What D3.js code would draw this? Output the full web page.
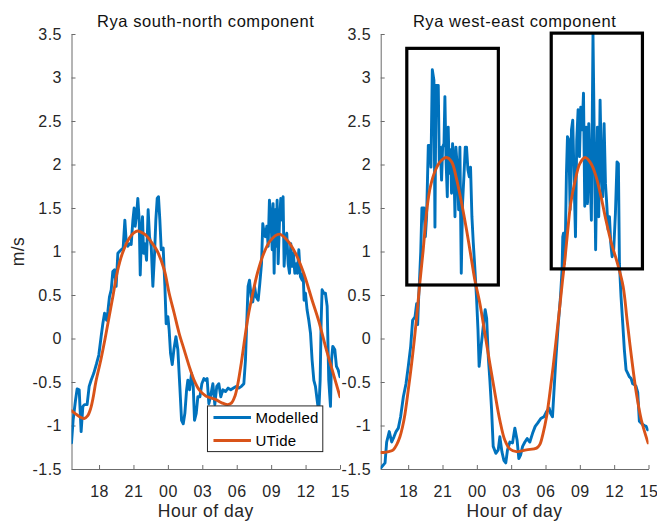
<!DOCTYPE html>
<html>
<head>
<meta charset="utf-8">
<script src="https://cdn.jsdelivr.net/npm/d3@7"></script>
<style>
  html, body { margin: 0; padding: 0; background: #fff; }
  svg { display: block; font-family: "Liberation Sans", Arial, Helvetica, sans-serif; }
</style>
</head>
<body>
<svg id="chart" width="657" height="521"></svg>
<script>
// ---- axes definitions ----
const hourDomain = [15.6, 39];
const hourTicks = [18, 21, 24, 27, 30, 33, 36, 39];
const hourTickLabels = ["18", "21", "00", "03", "06", "09", "12", "15"];
const valueDomain = [-1.5, 3.5];
const valueTicks = [-1.5, -1, -0.5, 0, 0.5, 1, 1.5, 2, 2.5, 3, 3.5];

const panelTitles = ["Rya south-north component", "Rya west-east component"];
const xAxisLabel = "Hour of day";
const yAxisLabel = "m/s";
const seriesNames = ["Modelled", "UTide"];
const seriesColors = ["#0072BD", "#D95319"];

// ---- south-north component: [hour, m/s] ----
const southNorthModelled = [
  [15.6,-1.2],[15.74,-0.94],[15.95,-0.71],[16.09,-0.58],[16.27,-0.59],[16.44,-1.07],[16.59,-0.78],
  [16.73,-0.76],[16.96,-0.76],[17.14,-0.55],[17.31,-0.48],[17.54,-0.40],[17.78,-0.29],[17.98,-0.19],
  [18.18,0.02],[18.33,0.17],[18.48,0.29],[18.65,0.21],[18.77,0.31],[18.91,0.48],[19.06,0.56],
  [19.2,0.77],[19.35,0.79],[19.49,0.6],[19.64,0.98],[19.78,1.0],[19.93,1.02],[20.1,1.04],
  [20.25,1.36],[20.36,1.13],[20.51,1.06],[20.66,1.09],[20.8,1.08],[20.95,1.36],[21.06,1.5],
  [21.15,1.29],[21.27,1.42],[21.38,1.61],[21.5,1.36],[21.59,0.73],[21.7,1.21],[21.79,1.4],
  [21.88,0.98],[21.99,1.09],[22.14,0.9],[22.28,1.48],[22.4,1.17],[22.55,1.06],[22.69,0.6],
  [22.84,0.98],[22.95,1.36],[23.07,1.61],[23.18,1.63],[23.3,1.36],[23.42,1.02],[23.59,1.04],
  [23.74,0.6],[23.85,0.17],[24.0,0.25],[24.11,0.1],[24.23,-0.17],[24.38,-0.3],[24.52,-0.13],
  [24.7,0.02],[24.87,-0.13],[25.04,-0.55],[25.19,-0.94],[25.34,-0.98],[25.48,-0.86],[25.63,-0.59],
  [25.74,-0.48],[25.89,-0.59],[26.06,-0.4],[26.21,-0.55],[26.32,-0.94],[26.47,-0.86],[26.61,-0.67],
  [26.79,-0.67],[26.96,-0.52],[27.14,-0.46],[27.28,-0.48],[27.42,-0.46],[27.57,-0.75],[27.71,-0.67],
  [27.92,-0.52],[28.09,-0.76],[28.26,-0.55],[28.44,-0.52],[28.61,-0.67],[28.79,-0.59],[29.02,-0.61],
  [29.25,-0.57],[29.48,-0.59],[29.72,-0.57],[29.95,-0.55],[30.18,-0.57],[30.41,-0.55],[30.62,-0.52],
  [30.76,-0.25],[30.88,0.21],[30.99,0.6],[31.11,0.67],[31.26,0.48],[31.4,0.42],[31.55,0.6],
  [31.69,0.48],[31.87,0.44],[32.01,0.63],[32.16,0.86],[32.27,1.32],[32.39,1.21],[32.5,1.17],
  [32.62,1.29],[32.74,1.06],[32.85,1.59],[32.97,1.4],[33.09,1.02],[33.17,1.55],[33.26,0.75],
  [33.35,1.48],[33.43,1.06],[33.52,1.59],[33.61,0.86],[33.73,1.36],[33.84,1.61],[33.96,1.36],
  [34.04,1.63],[34.13,0.83],[34.25,1.13],[34.36,1.21],[34.48,0.86],[34.6,0.75],[34.71,1.09],
  [34.83,0.83],[34.94,0.98],[35.06,0.75],[35.18,0.86],[35.29,0.75],[35.41,1.02],[35.55,0.71],
  [35.7,0.67],[35.79,0.75],[35.87,0.44],[35.99,0.52],[36.13,0.33],[36.28,0.21],[36.43,0.06],
  [36.57,-0.25],[36.72,-0.48],[36.86,-0.55],[37.01,-0.71],[37.15,-0.85],[37.27,-0.48],[37.36,0.21],
  [37.44,0.56],[37.59,0.52],[37.73,0.52],[37.88,0.37],[38.02,-0.48],[38.17,-0.78],[38.26,-0.25],
  [38.37,-0.09],[38.55,-0.13],[38.69,-0.32],[38.84,-0.36],[39.0,-0.44]
];
const southNorthUTide = [
  [15.6,-0.83],[15.9,-0.86],[16.3,-0.9],[16.7,-0.92],[17.0,-0.89],[17.28,-0.8],[17.5,-0.67],
  [17.72,-0.5],[18.15,-0.25],[18.53,0.0],[18.88,0.25],[19.23,0.5],[19.6,0.77],[20.04,0.98],
  [20.62,1.15],[21.0,1.21],[21.35,1.235],[21.7,1.22],[22.07,1.19],[22.66,1.09],[23.09,1.0],
  [23.68,0.79],[24.11,0.52],[24.55,0.29],[24.98,0.06],[25.42,-0.13],[25.86,-0.32],[26.29,-0.48],
  [26.73,-0.59],[27.3,-0.66],[28.15,-0.7],[28.7,-0.74],[29.2,-0.76],[29.55,-0.74],[29.85,-0.66],
  [30.1,-0.52],[30.4,-0.28],[30.7,0.0],[31.0,0.26],[31.4,0.52],[31.8,0.75],[32.3,0.96],
  [32.9,1.12],[33.7,1.2],[34.4,1.13],[35.12,0.98],[35.84,0.75],[36.57,0.44],[37.15,0.2],
  [37.73,-0.09],[38.32,-0.36],[39.0,-0.67]
];

// ---- west-east component: [hour, m/s] ----
const westEastModelled = [
  [15.6,-1.49],[15.98,-1.43],[16.12,-1.19],[16.35,-1.07],[16.56,-1.19],[16.76,-1.13],[16.94,-1.07],
  [17.14,-1.03],[17.34,-0.9],[17.58,-0.67],[17.81,-0.52],[18.01,-0.32],[18.22,-0.09],[18.39,0.21],
  [18.6,0.25],[18.74,0.4],[18.83,0.16],[18.91,0.45],[19.0,0.7],[19.1,1.0],[19.2,1.5],[19.38,1.5],
  [19.5,1.17],[19.61,1.4],[19.76,2.22],[19.9,2.22],[19.99,1.97],[20.11,3.09],[20.25,2.97],
  [20.34,1.28],[20.43,2.91],[20.63,2.91],[20.72,2.01],[20.8,2.2],[20.92,1.82],[21.01,2.2],
  [21.13,2.24],[21.21,2.78],[21.3,2.09],[21.42,1.63],[21.5,2.43],[21.59,1.9],[21.71,2.17],
  [21.79,1.67],[21.88,2.24],[22.0,1.94],[22.09,1.4],[22.17,2.2],[22.29,1.97],[22.41,1.48],
  [22.52,2.2],[22.64,0.75],[22.75,1.55],[22.87,1.86],[22.99,2.2],[23.1,2.2],[23.22,1.94],
  [23.34,1.86],[23.45,1.97],[23.57,1.4],[23.69,1.1],[23.83,0.8],[23.98,0.45],[24.1,0.1],
  [24.2,-0.32],[24.4,-0.06],[24.62,0.21],[24.73,0.33],[24.86,0.23],[25.0,-0.21],[25.14,-0.48],
  [25.29,-0.82],[25.43,-1.24],[25.66,-1.32],[25.87,-1.28],[26.01,-1.13],[26.19,-1.3],[26.36,-1.4],
  [26.53,-1.43],[26.68,-1.28],[26.89,-1.19],[27.12,-1.2],[27.32,-1.03],[27.52,-1.17],[27.67,-1.38],
  [27.82,-1.34],[28.0,-1.24],[28.2,-1.19],[28.4,-1.15],[28.63,-1.19],[28.87,-1.09],[29.1,-1.01],
  [29.33,-0.97],[29.59,-0.92],[29.86,-0.9],[30.09,-0.84],[30.32,-0.8],[30.44,-0.86],[30.61,-0.9],
  [30.73,-0.63],[30.9,-0.25],[31.1,0.14],[31.31,0.48],[31.45,0.8],[31.51,1.17],[31.57,1.21],
  [31.66,0.86],[31.75,1.25],[31.83,1.9],[31.92,2.32],[32.04,2.28],[32.15,1.48],[32.27,2.4],
  [32.38,2.51],[32.5,1.82],[32.62,1.17],[32.73,2.28],[32.85,2.63],[32.97,2.09],[33.08,2.66],
  [33.2,2.4],[33.32,2.82],[33.43,1.52],[33.55,2.43],[33.67,1.55],[33.78,2.47],[33.9,1.86],
  [34.01,1.36],[34.15,3.5],[34.27,2.2],[34.38,1.02],[34.54,2.43],[34.65,1.4],[34.77,2.74],
  [34.89,1.94],[35.0,1.63],[35.12,2.47],[35.24,1.78],[35.35,1.55],[35.47,1.25],[35.59,1.4],
  [35.7,1.1],[35.82,0.94],[35.96,1.02],[36.11,1.44],[36.25,2.03],[36.37,2.01],[36.46,0.86],
  [36.6,0.48],[36.75,0.17],[36.89,-0.13],[37.04,-0.36],[37.19,-0.4],[37.33,-0.44],[37.48,-0.46],
  [37.62,-0.52],[37.77,-0.53],[37.91,-0.55],[38.06,-0.62],[38.2,-0.95],[38.35,-0.97],[38.5,-0.99],
  [38.64,-1.0],[38.79,-1.01],[38.93,-1.05]
];
const westEastUTide = [
  [15.6,-1.31],[15.83,-1.31],[16.3,-1.3],[16.7,-1.28],[17.0,-1.22],[17.28,-1.13],[17.5,-1.02],
  [17.72,-0.87],[18.01,-0.59],[18.3,-0.29],[18.55,0.0],[18.83,0.37],[19.0,0.615],[19.3,1.0],
  [19.65,1.5],[19.95,1.75],[20.4,1.94],[20.85,2.04],[21.35,2.08],[21.8,2.03],[22.2,1.85],
  [22.65,1.57],[23.1,1.25],[23.54,0.9],[23.83,0.67],[24.27,0.4],[24.7,0.06],[25.14,-0.29],
  [25.58,-0.63],[26.01,-0.94],[26.45,-1.17],[26.89,-1.27],[27.47,-1.3],[28.34,-1.28],[29.22,-1.26],
  [29.5,-1.22],[29.79,-1.09],[30.09,-0.9],[30.38,-0.63],[30.67,-0.32],[30.96,0.02],[31.25,0.37],
  [31.49,0.67],[31.69,0.9],[31.95,1.25],[32.2,1.55],[32.6,1.82],[33.0,2.01],[33.46,2.08],
  [33.98,2.01],[34.42,1.86],[34.85,1.63],[35.3,1.35],[35.75,1.1],[36.25,0.88],[36.78,0.6],
  [37.13,0.21],[37.51,-0.21],[37.94,-0.63],[38.38,-0.94],[38.96,-1.2]
];

// highlighted windows on the west-east panel: hour range and m/s range
const westEastBoxes = [
  { hourFrom: 17.88, hourTo: 25.88, valueFrom: 0.615, valueTo: 3.335 },
  { hourFrom: 30.5, hourTo: 38.47, valueFrom: 0.80, valueTo: 3.51 }
];

// ---- layout ----
const svg = d3.select("#chart");
const plotTop = 34, plotBottom = 469;
const panels = [
  { left: 71.5, right: 340, title: panelTitles[0], modelled: southNorthModelled, utide: southNorthUTide, boxes: [], legend: true },
  { left: 380.7, right: 648.5, title: panelTitles[1], modelled: westEastModelled, utide: westEastUTide, boxes: westEastBoxes, legend: false }
];

const y = d3.scaleLinear().domain(valueDomain).range([plotBottom, plotTop]);
const axisColor = "#6b6b6b";
const textColor = "#262626";

panels.forEach((p, i) => {
  const x = d3.scaleLinear().domain(hourDomain).range([p.left, p.right]);
  const g = svg.append("g");

  // clip region for data lines
  const clipId = "clip" + i;
  svg.append("defs").append("clipPath").attr("id", clipId)
    .append("rect").attr("x", p.left).attr("y", plotTop)
    .attr("width", p.right - p.left).attr("height", plotBottom - plotTop);

  // y axis (ticks pointing inward)
  const yAxis = d3.axisLeft(y).tickValues(valueTicks).tickFormat(d => String(d))
    .tickSizeInner(-4).tickSizeOuter(0).tickPadding(9.5);
  const ya = g.append("g").attr("transform", `translate(${p.left},0)`).call(yAxis);

  // x axis (ticks pointing inward)
  const xAxis = d3.axisBottom(x).tickValues(hourTicks).tickFormat((d, k) => hourTickLabels[k])
    .tickSizeInner(-4).tickSizeOuter(0).tickPadding(16.5);
  const xa = g.append("g").attr("transform", `translate(0,${plotBottom})`).call(xAxis);

  [ya, xa].forEach(a => {
    a.attr("font-family", null).attr("font-size", null);
    a.select(".domain").attr("stroke", axisColor).attr("stroke-width", 1);
    a.selectAll(".tick line").attr("stroke", axisColor).attr("stroke-width", 1);
    a.selectAll(".tick text").attr("fill", textColor)
      .style("font-size", "16px").style("letter-spacing", "0.5px");
  });

  // series lines
  const lineModelled = d3.line().x(d => x(d[0])).y(d => y(d[1]));
  const lineUTide = d3.line().x(d => x(d[0])).y(d => y(d[1])).curve(d3.curveCatmullRom.alpha(0.5));
  const lines = g.append("g").attr("clip-path", `url(#${clipId})`);
  lines.append("path").datum(p.modelled).attr("d", lineModelled)
    .attr("fill", "none").attr("stroke", seriesColors[0]).attr("stroke-width", 2.9)
    .attr("stroke-linejoin", "round").attr("stroke-linecap", "round");
  lines.append("path").datum(p.utide).attr("d", lineUTide)
    .attr("fill", "none").attr("stroke", seriesColors[1]).attr("stroke-width", 2.9)
    .attr("stroke-linejoin", "round").attr("stroke-linecap", "round");

  // highlight boxes
  g.selectAll("rect.box").data(p.boxes).join("rect").attr("class", "box")
    .attr("x", d => x(d.hourFrom)).attr("y", d => y(d.valueTo))
    .attr("width", d => x(d.hourTo) - x(d.hourFrom))
    .attr("height", d => y(d.valueFrom) - y(d.valueTo))
    .attr("fill", "none").attr("stroke", "#000").attr("stroke-width", 3.2);

  // title
  g.append("text").attr("x", (p.left + p.right) / 2).attr("y", 26.5)
    .attr("text-anchor", "middle").attr("fill", "#111")
    .style("font-size", "16.5px").style("letter-spacing", "0.55px")
    .text(p.title);

  // x label
  g.append("text").attr("x", (p.left + p.right) / 2).attr("y", 516.5)
    .attr("text-anchor", "middle").attr("fill", textColor)
    .style("font-size", "17.5px").style("letter-spacing", "0.5px")
    .text(xAxisLabel);

  // legend
  if (p.legend) {
    const lg = g.append("g");
    const lx0 = x(27.45), lx1 = x(37.5);
    const ly0 = y(-0.775), ly1 = y(-1.3);
    lg.append("rect").attr("x", lx0).attr("y", ly0)
      .attr("width", lx1 - lx0).attr("height", ly1 - ly0)
      .attr("fill", "#fff").attr("stroke", textColor).attr("stroke-width", 1);
    seriesNames.forEach((name, k) => {
      const cy = ly0 + 11.5 + k * 23;
      lg.append("line").attr("x1", lx0 + 6).attr("x2", lx0 + 43.5)
        .attr("y1", cy).attr("y2", cy)
        .attr("stroke", seriesColors[k]).attr("stroke-width", 2.9);
      lg.append("text").attr("x", lx0 + 48).attr("y", cy + 5.5)
        .attr("fill", "#000").style("font-size", "15px").style("letter-spacing", "0.3px")
        .text(name);
    });
  }
});

// shared y label
svg.append("text").attr("transform", `translate(24,${(plotTop + plotBottom) / 2}) rotate(-90)`)
  .attr("text-anchor", "middle").attr("fill", textColor)
  .style("font-size", "17.5px").style("letter-spacing", "0.5px")
  .text(yAxisLabel);
</script>
</body>
</html>
